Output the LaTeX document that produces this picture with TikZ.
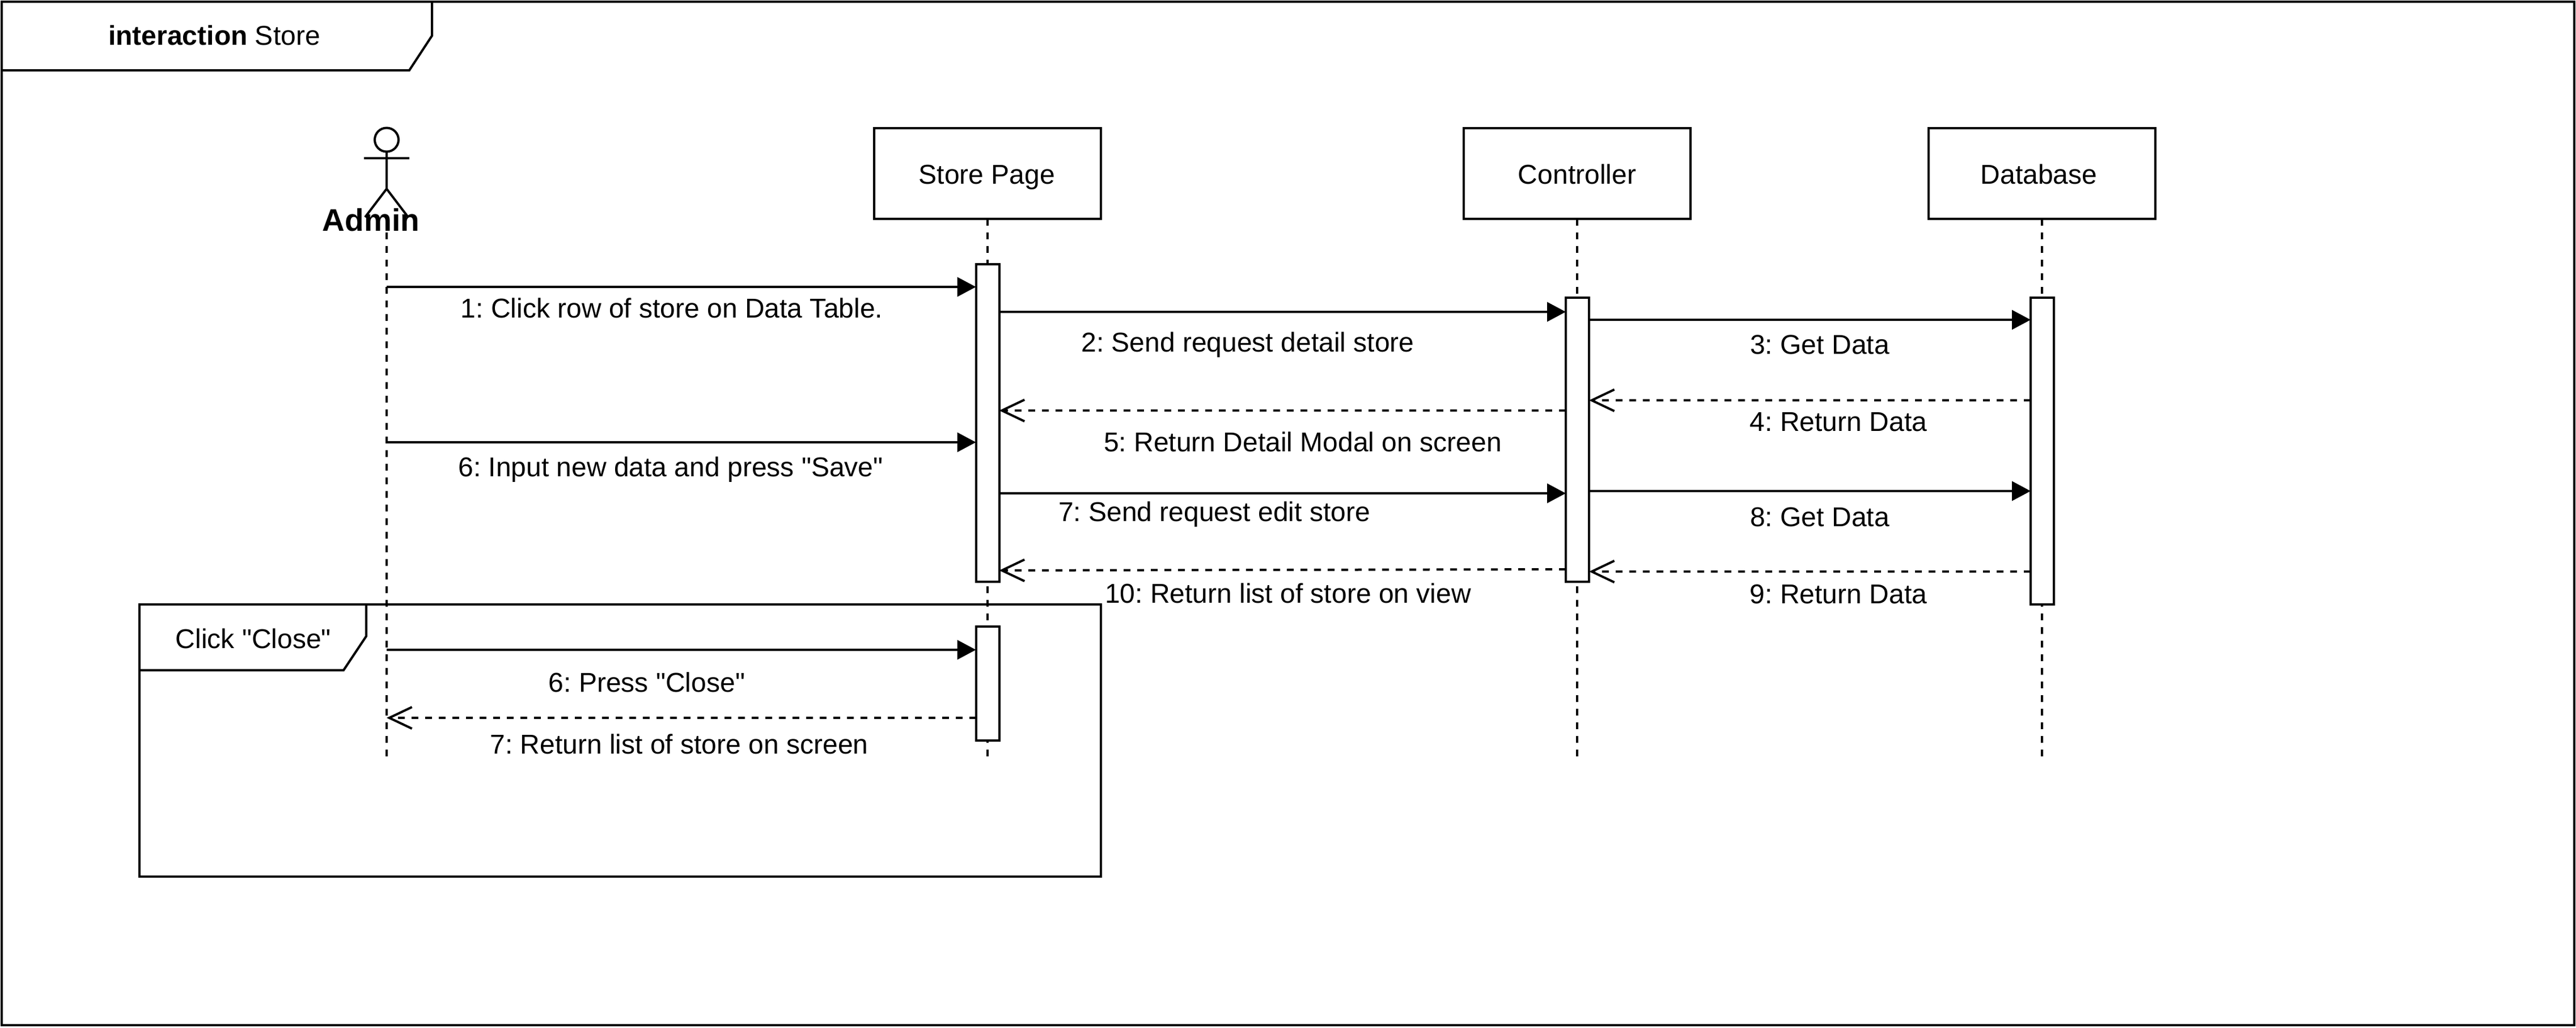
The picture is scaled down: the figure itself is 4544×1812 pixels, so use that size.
\documentclass[tikz,border=0pt]{standalone}
\usepackage{fontspec}
\newfontfamily\arialish{Liberation Sans}
\usetikzlibrary{arrows.meta}
\tikzset{
  x=0.25pt,y=-0.25pt,
  shape line/.style={draw=black,line width=1pt},
  boxnode/.style={shape line,fill=white,rectangle,minimum width=100pt,minimum height=40pt,inner sep=0pt,outer sep=0pt,text height=9pt,text depth=0pt,font=\arialish\frenchspacing\fontsize{12pt}{14pt}\selectfont},
  actbox/.style={shape line,fill=white,rectangle,minimum width=10.25pt,inner sep=0pt,outer sep=0pt},
  lifeline/.style={draw=black,line width=1pt,dash pattern=on 3pt off 3pt},
  syncmsg/.style={draw=black,line width=1pt,-{Triangle[length=8.25pt,width=8.5pt]}},
  retmsg/.style={draw=black,line width=1pt,dash pattern=on 3pt off 3pt,-{Straight Barb[length=10pt,width=9.5pt,line width=1pt]}},
  lbl/.style={anchor=base,inner sep=0pt,font=\arialish\frenchspacing\fontsize{12pt}{14pt}\selectfont},
}
\begin{document}
\begin{tikzpicture}
\useasboundingbox (0,0) rectangle (4544,1812);
\fill[white] (0,0) rectangle (4544,1812);
% outer frame
\draw[shape line] (3,3) rectangle (4541,1808);
\draw[shape line] (3,124) -- (722,124) -- (762,63) -- (762,3);
\node[lbl] (title) at (378,79) {\textbf{interaction} Store};
% actor
\node[circle,shape line,minimum size=10.5pt,inner sep=0pt,outer sep=0pt] (head) at (682,246.5) {};
\coordinate (hip) at (682,333);
\coordinate (lhand) at (642,279);
\coordinate (rhand) at (722,279);
\coordinate (lfoot) at (644,383);
\coordinate (rfoot) at (720,383);
\draw[shape line] (head.south) -- (hip);
\draw[shape line] (lhand) -- (rhand);
\draw[shape line] (lfoot) -- (hip) -- (rfoot);
\node[anchor=base,inner sep=0pt,font=\arialish\fontsize{13.75pt}{16pt}\selectfont\bfseries] (admin) at (654.5,407) {Admin};
% heads
\node[boxnode] (store) at (1742,306) {Store Page\kern.5pt};
\node[boxnode] (ctrl) at (2782,306) {Controller};
\node[boxnode] (db) at (3602,306) {Database\kern2.75pt};
% lifeline ends
\coordinate (astart) at (682,386);
\coordinate (aend) at (682,1334);
\coordinate (send) at (1742,1334);
\coordinate (cend) at (2782,1334);
\coordinate (dend) at (3602,1334);
\draw[lifeline] (astart) -- (aend);
\draw[lifeline] (store.south) -- (send);
\draw[lifeline] (ctrl.south) -- (cend);
\draw[lifeline] (db.south) -- (dend);
% fragment
\draw[shape line] (246,1066) rectangle (1942,1546);
\draw[shape line] (246,1182) -- (606,1182) -- (646,1122) -- (646,1066);
\node[lbl] (frag) at (447,1143) {Click "Close"};
% activations
\node[actbox,minimum height=140pt] (a1) at (1742,746) {};
\node[actbox,minimum height=50.25pt] (a2) at (1742,1205.5) {};
\node[actbox,minimum height=125.25pt] (c1) at (2782.5,775.5) {};
\node[actbox,minimum height=135.25pt] (d1) at (3602.5,795.5) {};
% messages
\draw[syncmsg] (aend |- 0,506) -- (a1.west |- 0,506);
\draw[syncmsg] (a1.east |- 0,550) -- (c1.west |- 0,550);
\draw[syncmsg] (c1.east |- 0,564) -- (d1.west |- 0,564);
\draw[retmsg] (d1.west |- 0,706) -- (c1.east |- 0,706);
\draw[retmsg] (c1.west |- 0,724) -- (a1.east |- 0,724);
\draw[syncmsg] (aend |- 0,780) -- (a1.west |- 0,780);
\draw[syncmsg] (a1.east |- 0,870) -- (c1.west |- 0,870);
\draw[syncmsg] (c1.east |- 0,866) -- (d1.west |- 0,866);
\draw[retmsg] (d1.west |- 0,1008) -- (c1.east |- 0,1008);
\draw[retmsg] (c1.west |- 0,1004) -- (a1.east |- 0,1006);
\draw[syncmsg] (aend |- 0,1146) -- (a2.west |- 0,1146);
\draw[retmsg] (a2.west |- 0,1266) -- (aend |- 0,1266);
% labels
\node[lbl] (m1) at (1185,560) {1: Click row of store on Data Table.};
\node[lbl] (m2) at (2201,620) {2: Send request detail store};
\node[lbl] (m3) at (3210,624) {3: Get Data};
\node[lbl] (m4) at (3243,760) {4: Return Data};
\node[lbl] (m5) at (2298,796) {5: Return Detail Modal on screen};
\node[lbl] (m6) at (1183,840) {6: Input new data and press "Save"};
\node[lbl] (m7) at (2142,919) {7: Send request edit store};
\node[lbl] (m8) at (3210,928) {8: Get Data};
\node[lbl] (m9) at (3243,1064) {9: Return Data};
\node[lbl] (m10) at (2272,1063) {10: Return list of store on view};
\node[lbl] (m11) at (1141,1220) {6: Press "Close"};
\node[lbl] (m12) at (1198,1329) {7: Return list of store on screen};
\end{tikzpicture}
\end{document}
